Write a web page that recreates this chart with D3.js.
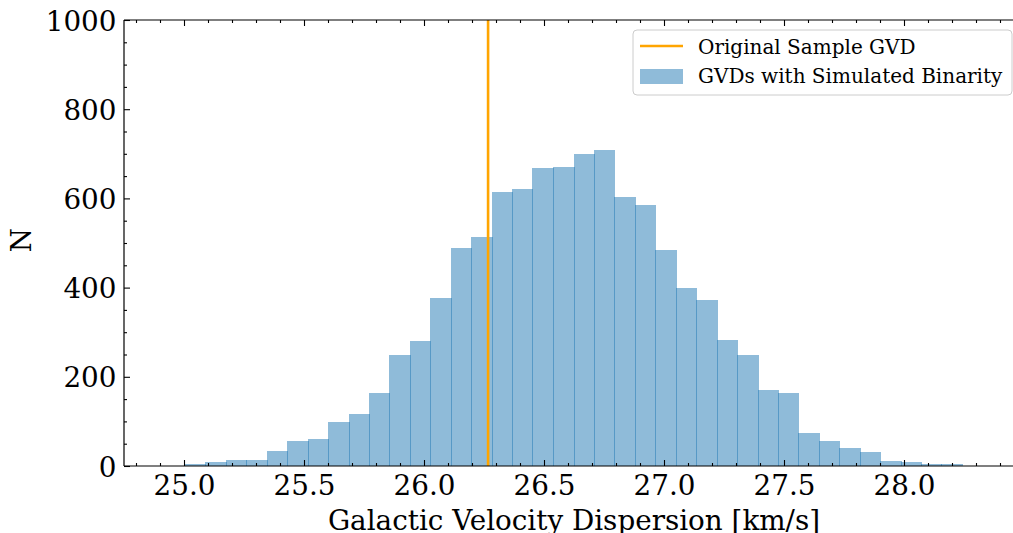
<!DOCTYPE html>
<html>
<head>
<meta charset="utf-8">
<script src="https://cdn.jsdelivr.net/npm/d3@7"></script>
<style>
  html, body { margin: 0; padding: 0; background: #fff; }
  svg { display: block; }
  text { font-family: "DejaVu Serif", serif; fill: #000; }
</style>
</head>
<body>
<svg id="chart" width="1013" height="533"></svg>
<script>
// ---- data ----
const binEdges = [25.004, 25.089, 25.174, 25.260, 25.345, 25.430, 25.515, 25.600, 25.686, 25.771,
                  25.856, 25.941, 26.026, 26.112, 26.197, 26.282, 26.367, 26.452, 26.538, 26.623,
                  26.708, 26.793, 26.878, 26.964, 27.049, 27.134, 27.219, 27.304, 27.390, 27.475,
                  27.560, 27.645, 27.730, 27.816, 27.901, 27.986, 28.071, 28.156, 28.242];
const counts = [4, 9, 13, 13, 34, 56, 61, 99, 117, 164,
                249, 280, 376, 489, 513, 614, 621, 668, 670, 699,
                708, 603, 585, 484, 399, 372, 283, 249, 170, 164,
                74, 56, 40, 31, 11, 9, 4, 4];
const originalGVD = 26.267;
const xDomain = [24.75, 28.5];
const yDomain = [0, 1000];
const xMajorTicks = [25.0, 25.5, 26.0, 26.5, 27.0, 27.5, 28.0];
const xMinorTicks = [24.8, 24.9, 25.1, 25.2, 25.3, 25.4, 25.6, 25.7, 25.8, 25.9, 26.1, 26.2, 26.3, 26.4,
                     26.6, 26.7, 26.8, 26.9, 27.1, 27.2, 27.3, 27.4, 27.6, 27.7, 27.8, 27.9, 28.1, 28.2, 28.3, 28.4];
const yMajorTicks = [0, 200, 400, 600, 800, 1000];
const yMinorTicks = [50, 100, 150, 250, 300, 350, 450, 500, 550, 650, 700, 750, 850, 900, 950];
const xLabel = "Galactic Velocity Dispersion [km/s]";
const yLabel = "N";
const legendLabels = ["Original Sample GVD", "GVDs with Simulated Binarity"];

// ---- layout ----
const plot = { left: 124, right: 1024, top: 20, bottom: 466 };
const svg = d3.select("#chart");

const x = d3.scaleLinear().domain(xDomain).range([plot.left, plot.right]);
const y = d3.scaleLinear().domain(yDomain).range([plot.bottom, plot.top]);

const histColor = "#1f77b4";
const lineColor = "#ffa500";

// bars
svg.append("g").selectAll("rect")
  .data(counts)
  .join("rect")
  .attr("x", (d, i) => x(binEdges[i]))
  .attr("width", (d, i) => x(binEdges[i + 1]) - x(binEdges[i]) + 1)
  .attr("y", d => y(d))
  .attr("height", d => y(0) - y(d))
  .attr("fill", histColor)
  .attr("fill-opacity", 0.5)
  .attr("shape-rendering", "crispEdges");

// original sample line
svg.append("line")
  .attr("x1", x(originalGVD)).attr("x2", x(originalGVD))
  .attr("y1", y(yDomain[0])).attr("y2", y(yDomain[1]))
  .attr("stroke", lineColor).attr("stroke-width", 2.6);

// axes (ticks pointing inward)
const fontAxis = 27.8;
function styleAxis(g) {
  g.select(".domain").remove();
  g.selectAll(".tick line").attr("stroke", "#000").attr("stroke-width", 1.1);
}

const bottomMajor = svg.append("g").attr("transform", `translate(0,${plot.bottom})`)
  .call(d3.axisBottom(x).tickValues(xMajorTicks).tickFormat(d3.format(".1f")).tickSize(-6).tickPadding(0));
styleAxis(bottomMajor);
bottomMajor.selectAll(".tick text")
  .attr("y", 29).attr("dy", null)
  .style("font-family", "DejaVu Serif").style("font-size", fontAxis + "px");

const bottomMinor = svg.append("g").attr("transform", `translate(0,${plot.bottom})`)
  .call(d3.axisBottom(x).tickValues(xMinorTicks).tickFormat("").tickSize(-3));
styleAxis(bottomMinor);

const topMajor = svg.append("g").attr("transform", `translate(0,${plot.top})`)
  .call(d3.axisTop(x).tickValues(xMajorTicks).tickFormat("").tickSize(-6));
styleAxis(topMajor);
const topMinor = svg.append("g").attr("transform", `translate(0,${plot.top})`)
  .call(d3.axisTop(x).tickValues(xMinorTicks).tickFormat("").tickSize(-3));
styleAxis(topMinor);

const leftMajor = svg.append("g").attr("transform", `translate(${plot.left},0)`)
  .call(d3.axisLeft(y).tickValues(yMajorTicks).tickFormat(d3.format("d")).tickSize(-6).tickPadding(0));
styleAxis(leftMajor);
leftMajor.selectAll(".tick text")
  .attr("x", -7.5).attr("dy", "0.36em")
  .style("font-family", "DejaVu Serif").style("font-size", fontAxis + "px");
const leftMinor = svg.append("g").attr("transform", `translate(${plot.left},0)`)
  .call(d3.axisLeft(y).tickValues(yMinorTicks).tickFormat("").tickSize(-3));
styleAxis(leftMinor);

const rightMajor = svg.append("g").attr("transform", `translate(${plot.right},0)`)
  .call(d3.axisRight(y).tickValues(yMajorTicks).tickFormat("").tickSize(-6));
styleAxis(rightMajor);

// spines
const spine = svg.append("g").attr("stroke", "#000").attr("stroke-width", 1.2).attr("fill", "none");
spine.append("line").attr("x1", plot.left).attr("x2", plot.right).attr("y1", plot.bottom).attr("y2", plot.bottom);
spine.append("line").attr("x1", plot.left).attr("x2", plot.right).attr("y1", plot.top).attr("y2", plot.top);
spine.append("line").attr("x1", plot.left).attr("x2", plot.left).attr("y1", plot.top).attr("y2", plot.bottom);
spine.append("line").attr("x1", plot.right).attr("x2", plot.right).attr("y1", plot.top).attr("y2", plot.bottom);

// axis labels
svg.append("text")
  .attr("x", (plot.left + plot.right) / 2)
  .attr("y", 530)
  .attr("text-anchor", "middle")
  .style("font-size", fontAxis + "px")
  .text(xLabel);

svg.append("text")
  .attr("transform", `translate(31,${(plot.top + plot.bottom) / 2 - 3}) rotate(-90)`)
  .attr("text-anchor", "middle")
  .style("font-size", fontAxis + "px")
  .text(yLabel);

// legend
const legend = svg.append("g");
legend.append("rect")
  .attr("x", 633).attr("y", 30).attr("width", 379).attr("height", 65)
  .attr("rx", 4).attr("ry", 4)
  .attr("fill", "#fff").attr("fill-opacity", 0.8)
  .attr("stroke", "#cccccc").attr("stroke-width", 1);
legend.append("line")
  .attr("x1", 640).attr("x2", 683).attr("y1", 46).attr("y2", 46)
  .attr("stroke", lineColor).attr("stroke-width", 2.6);
legend.append("rect")
  .attr("x", 640).attr("y", 69).attr("width", 43).attr("height", 15)
  .attr("fill", histColor).attr("fill-opacity", 0.5);
legend.selectAll("text.leg")
  .data(legendLabels)
  .join("text")
  .attr("class", "leg")
  .attr("x", 698)
  .attr("y", (d, i) => 53.5 + i * 29)
  .style("font-size", "20px")
  .text(d => d);
</script>
</body>
</html>
